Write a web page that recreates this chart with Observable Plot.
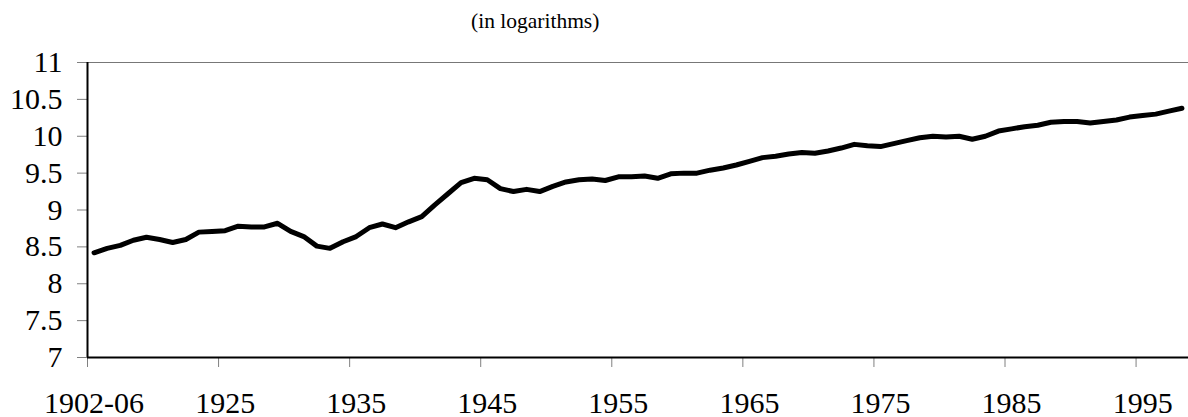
<!DOCTYPE html>
<html>
<head>
<meta charset="utf-8">
<script src="https://cdn.jsdelivr.net/npm/d3@7"></script>
<script src="https://cdn.jsdelivr.net/npm/@observablehq/plot@0.6"></script>
<style>
  html, body { margin: 0; padding: 0; background: #fff; }
  #title {
    box-sizing: border-box;
    height: 40px;
    padding-left: 471px;
    padding-top: 9px;
    font-family: "Liberation Serif", "Times New Roman", serif;
    font-size: 21.5px;
    line-height: 24px;
    color: #000;
    white-space: nowrap;
  }
</style>
</head>
<body>
<div id="title">(in logarithms)</div>
<div id="chart"></div>
<script>
// Categories (first one is a period average, then annual)
const categories = [
  "1902-06",
  "1916","1917","1918","1919","1920","1921","1922","1923","1924","1925",
  "1926","1927","1928","1929","1930","1931","1932","1933","1934","1935",
  "1936","1937","1938","1939","1940","1941","1942","1943","1944","1945",
  "1946","1947","1948","1949","1950","1951","1952","1953","1954","1955",
  "1956","1957","1958","1959","1960","1961","1962","1963","1964","1965",
  "1966","1967","1968","1969","1970","1971","1972","1973","1974","1975",
  "1976","1977","1978","1979","1980","1981","1982","1983","1984","1985",
  "1986","1987","1988","1989","1990","1991","1992","1993","1994","1995",
  "1996","1997","1998"
];

// Series values (logarithms)
const values = [
  8.42,
  8.48, 8.52, 8.59, 8.63, 8.60, 8.56, 8.60, 8.70, 8.71, 8.72,
  8.78, 8.77, 8.77, 8.82, 8.71, 8.64, 8.51, 8.48, 8.57, 8.64,
  8.76, 8.81, 8.76, 8.84, 8.91, 9.07, 9.22, 9.37, 9.43, 9.41,
  9.29, 9.25, 9.28, 9.25, 9.32, 9.38, 9.41, 9.42, 9.40, 9.45,
  9.45, 9.46, 9.43, 9.49, 9.50, 9.50, 9.54, 9.57, 9.61, 9.66,
  9.71, 9.73, 9.76, 9.78, 9.77, 9.80, 9.84, 9.89, 9.87, 9.86,
  9.90, 9.94, 9.98, 10.00, 9.99, 10.00, 9.96, 10.00, 10.07, 10.10,
  10.13, 10.15, 10.19, 10.20, 10.20, 10.18, 10.20, 10.22, 10.26, 10.28,
  10.30, 10.34, 10.38
];

// Y tick values
const yTicks = [7, 7.5, 8, 8.5, 9, 9.5, 10, 10.5, 11];
// Every 10th category carries a label
const labelStep = 10;

const n = categories.length;
const data = categories.map((c, i) => ({cat: c, idx: i, value: values[i]}));
const labelIdx = d3.range(0, n, labelStep);

const font = '"Liberation Serif", "Times New Roman", serif';

const chart = Plot.plot({
  width: 1188,
  height: 377,
  marginTop: 22,
  marginBottom: 60,
  marginLeft: 87,
  marginRight: 0,
  style: {fontFamily: font, fontSize: "30px", color: "#000", background: "#fff", overflow: "visible"},
  x: {type: "linear", domain: [0, n], label: null},
  y: {domain: [7, 11], label: null},
  marks: [
    // top border line at 11
    Plot.ruleY([11], {stroke: "#777", strokeWidth: 1}),
    // y axis: ticks + labels
    Plot.axisY({ticks: yTicks, tickSize: 10, tickPadding: 15, stroke: "#808080",
      tickFormat: d => String(d), label: null, fontSize: 30, fill: "#000"}),
    // x axis tick marks at category boundaries
    Plot.axisX({ticks: labelIdx, tickSize: 10, tickFormat: () => "", stroke: "#808080", label: null}),
    // x axis labels centered on the categories
    Plot.axisX({ticks: labelIdx.map(i => i + 0.5), tickSize: 0, tickPadding: 34,
      tickFormat: d => categories[Math.floor(d)], label: null, fontSize: 30, fill: "#000"}),
    // axis lines
    Plot.ruleY([7], {stroke: "#000", strokeWidth: 2}),
    Plot.ruleX([0], {stroke: "#000", strokeWidth: 2}),
    // the series
    Plot.line(data, {x: d => d.idx + 0.5, y: "value", stroke: "#000", strokeWidth: 5,
      strokeLinejoin: "round", strokeLinecap: "round"})
  ]
});
document.getElementById("chart").appendChild(chart);
</script>
</body>
</html>
